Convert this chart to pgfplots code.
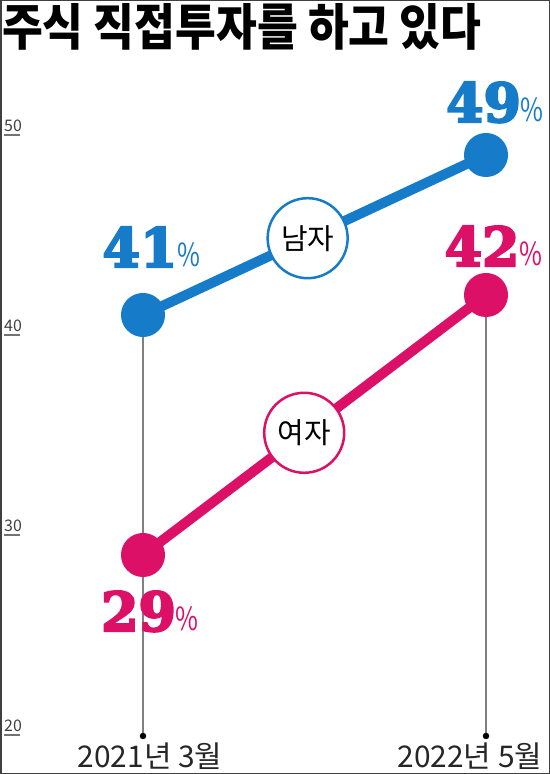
\documentclass[border=0pt]{standalone}
\usepackage{fontspec}
\usepackage{graphicx}
\usepackage{pgfplots}
\pgfplotsset{compat=1.18}
\setmainfont{Noto Sans CJK KR}
\newfontfamily\kr{Noto Sans CJK KR}
\newfontfamily\num{DejaVu Serif Bold}[FakeBold=4]
\definecolor{manblue}{RGB}{22,124,201}
\definecolor{womanpink}{RGB}{221,16,104}
\newcommand{\pct}[1]{{\num\fontsize{54}{54}\selectfont #1}{\kr\fontsize{32}{32}\selectfont\scalebox{0.78}[1]{\%}}}

\begin{document}
\begin{tikzpicture}
\useasboundingbox (0,0) rectangle (550bp,774bp);
\draw[line width=1.5bp, black!75] (0.75bp,0.75bp) rectangle (549.25bp,773.25bp);
\node[anchor=north west, inner sep=0pt, font=\kr\bfseries\fontsize{50}{50}\selectfont]
  at (2bp,771bp) {\scalebox{0.89}[1]{주식 직접투자를 하고 있다}};
\begin{axis}[
  at={(4bp,29bp)}, anchor=south west,
  scale only axis, width=544bp, height=630bp,
  xmin=-0.40525, xmax=1.18076, ymin=19.5, ymax=51,
  clip=false,
  axis line style={draw=none},
  xtick={0.0204,0.953},
  xticklabels={2021년 3월,2022년 5월},
  xtick style={draw=none},
  xticklabel style={anchor=base, inner sep=0pt, yshift=-22bp,
    font=\kr\fontsize{30}{30}\selectfont, text=black!85},
  ytick={20,30,40,50},
  ytick pos=left, xtick pos=bottom,
  tick align=inside, major tick length=16bp,
  ytick style={draw=black!55, line width=1.3bp},
  yticklabel style={anchor=south west, inner sep=0pt, yshift=3bp,
    font=\kr\fontsize{16}{16}\selectfont, text=black!75},
  /pgf/number format/assume math mode=true,
]
% guide lines
\addplot[black!50, line width=1.2bp] coordinates {(0,41) (0,19.95)};
\addplot[black!50, line width=1.2bp] coordinates {(1,42) (1,19.95)};
\addplot[only marks, mark=*, mark size=3bp, black] coordinates {(0,19.95) (1,19.95)};

% men
\addplot[manblue, line width=10bp, mark=*, mark size=17bp,
  mark options={draw=none, fill=manblue}] coordinates {(0,41) (1,49)}
  node[pos=0, anchor=base, xshift=8.5bp, yshift=48bp] {\pct{41}}
  node[pos=1, anchor=base, xshift=9bp, yshift=33bp] {\pct{49}}
  node[pos=0.48, circle, draw=manblue, fill=white, line width=2.5bp,
    minimum size=80bp, inner sep=0pt, text=black,
    font=\kr\fontsize{29}{29}\selectfont] {남자};

% women
\addplot[womanpink, line width=10bp, mark=*, mark size=17bp,
  mark options={draw=none, fill=womanpink}] coordinates {(0,29) (1,42)}
  node[pos=0, anchor=base, xshift=7bp, yshift=-76bp] {\pct{29}}
  node[pos=1, anchor=base, xshift=7.5bp, yshift=29bp] {\pct{42}}
  node[pos=0.47, circle, draw=womanpink, fill=white, line width=2.5bp,
    minimum size=80bp, inner sep=0pt, text=black,
    font=\kr\fontsize{29}{29}\selectfont] {여자};
\end{axis}
\end{tikzpicture}
\end{document}
